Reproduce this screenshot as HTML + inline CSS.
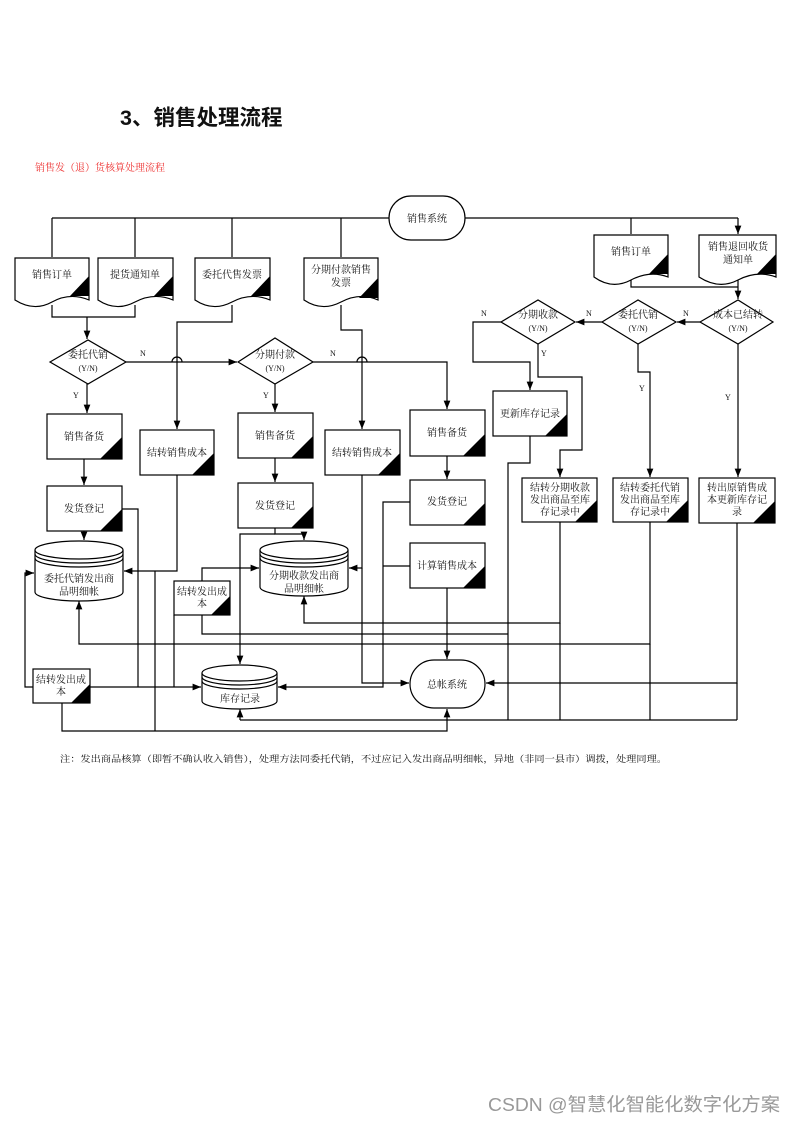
<!DOCTYPE html>
<html><head><meta charset="utf-8"><style>
body{margin:0;background:#fff;width:794px;height:1123px;overflow:hidden}
svg text{font-family:"Liberation Serif","Noto Serif CJK SC",serif;font-size:10px;fill:#111}
</style></head><body>
<svg width="794" height="1123" viewBox="0 0 794 1123" xmlns="http://www.w3.org/2000/svg">
<defs>
<marker id="a" viewBox="0 0 10 10" refX="10" refY="5" markerWidth="7" markerHeight="7" orient="auto"><path d="M0,1 L10,5 L0,9z" fill="#000"/></marker>
</defs>
<text x="120" y="125" style="font-family:'Liberation Sans','Noto Sans CJK SC',sans-serif;font-size:21.5px;font-weight:bold">3、销售处理流程</text>
<text x="35" y="171" style="fill:#e33;font-size:10px">销售发（退）货核算处理流程</text>

<g fill="none" stroke="#000" stroke-width="1.2">
<path d="M52,218H389M465,218H738"/>
<path d="M52,218V257M135,218V257M232,218V257M341,218V257M631,218V234M738,218V234" marker-end="url(#a)"/>
<path d="M52,305V317H135V305"/>
<path d="M87,317V339" marker-end="url(#a)"/>
<path d="M87,384V413" marker-end="url(#a)"/>
<path d="M126,362H237" marker-end="url(#a)"/>
<path d="M232,305V322H177V429" marker-end="url(#a)"/>
<path d="M275,384V412" marker-end="url(#a)"/>
<path d="M313,362H447V409" marker-end="url(#a)"/>
<path d="M341,305V330H362V429" marker-end="url(#a)"/>
<path d="M84,459V485" marker-end="url(#a)"/>
<path d="M275,458V482" marker-end="url(#a)"/>
<path d="M447,456V479" marker-end="url(#a)"/>
<path d="M84,531V540" marker-end="url(#a)"/>
<path d="M275,528V534H304V540" marker-end="url(#a)"/>
<path d="M275,534H240V664" marker-end="url(#a)"/>
<path d="M122,509H138V687"/>
<path d="M177,475V571H124" marker-end="url(#a)"/>
<path d="M155,571V731"/>
<path d="M90,687H201" marker-end="url(#a)"/>
<path d="M33,687H25V573H34" marker-end="url(#a)"/>
<path d="M62,703V731H447V709" marker-end="url(#a)"/>
<path d="M202,581V568H259" marker-end="url(#a)"/>
<path d="M174,615V687"/>
<path d="M202,615V634H508"/>
<path d="M362,475V568H349" marker-end="url(#a)"/>
<path d="M362,568V683H409" marker-end="url(#a)"/>
<path d="M410,502H383V687H278" marker-end="url(#a)"/>
<path d="M410,566H383"/>
<path d="M447,588V659" marker-end="url(#a)"/>
<path d="M240,720H737M240,720V709" marker-end="url(#a)"/>
<path d="M560,522V623H304V596" marker-end="url(#a)"/>
<path d="M650,522V644H79V601" marker-end="url(#a)"/>
<path d="M737,523V683H486" marker-end="url(#a)"/>
<path d="M560,623V720M650,644V720M737,683V720"/>
<path d="M631,277V287H738"/>
<path d="M738,277V299" marker-end="url(#a)"/>
<path d="M700,322H677" marker-end="url(#a)"/>
<path d="M602,322H576" marker-end="url(#a)"/>
<path d="M501,322H473V362H530V390" marker-end="url(#a)"/>
<path d="M538,344V377H582V450H560V477" marker-end="url(#a)"/>
<path d="M638,344V372H650V477" marker-end="url(#a)"/>
<path d="M738,344V477" marker-end="url(#a)"/>
<path d="M530,436V463H508V720"/>
</g>

<g fill="none" stroke="#000" stroke-width="1.2">
<path d="M172,362a5,5 0 0 1 10,0" /><path d="M357,362a5,5 0 0 1 10,0"/>
</g>

<g stroke="#000" stroke-width="1.2" fill="#fff">
<rect x="389" y="196" width="76" height="44" rx="22"/>
<rect x="410" y="660" width="75" height="48" rx="24"/>
<path d="M15,258H89V300Q70,292 52,302T15,300Z"/>
<path d="M98,258H173V300Q154,292 135,302T98,300Z"/>
<path d="M195,258H270V300Q251,292 232,302T195,300Z"/>
<path d="M304,258H378V300Q360,292 341,302T304,300Z"/>
<path d="M594,235H668V277Q650,270 631,280T594,277Z"/>
<path d="M699,235H776V277Q757,270 738,280T699,277Z"/>
<path d="M50,362L88,340L126,362L88,384Z"/>
<path d="M238,362L275,338L313,362L275,384Z"/>
<path d="M700,322L738,300L773,322L738,344Z"/>
<path d="M602,322L638,300L676,322L638,344Z"/>
<path d="M501,322L538,300L575,322L538,344Z"/>
<rect x="47" y="414" width="75" height="45"/>
<rect x="47" y="486" width="75" height="45"/>
<rect x="140" y="430" width="74" height="45"/>
<rect x="238" y="413" width="75" height="45"/>
<rect x="238" y="483" width="75" height="45"/>
<rect x="325" y="430" width="75" height="45"/>
<rect x="410" y="410" width="75" height="46"/>
<rect x="410" y="480" width="75" height="45"/>
<rect x="410" y="543" width="75" height="45"/>
<rect x="174" y="581" width="56" height="34"/>
<rect x="33" y="669" width="57" height="34"/>
<rect x="493" y="391" width="74" height="45"/>
<rect x="522" y="478" width="75" height="44"/>
<rect x="613" y="478" width="75" height="44"/>
<rect x="699" y="478" width="76" height="45"/>
<path d="M35,550V592A44,9 0 0 0 123,592V550"/><ellipse cx="79" cy="550" rx="44" ry="9"/>
<path d="M35,554A44,9 0 0 0 123,554M35,558A44,9 0 0 0 123,558" fill="none"/>
<path d="M260,550V587A44,9 0 0 0 348,587V550"/><ellipse cx="304" cy="550" rx="44" ry="9"/>
<path d="M260,554A44,9 0 0 0 348,554M260,558A44,9 0 0 0 348,558" fill="none"/>
<path d="M202,673V701A37.5,8 0 0 0 277,701V673"/><ellipse cx="239.5" cy="673" rx="37.5" ry="8"/>
<path d="M202,677A37.5,8 0 0 0 277,677M202,681A37.5,8 0 0 0 277,681" fill="none"/>
</g>

<g fill="#000">
<path d="M89,276V296L70,296Z"/><path d="M173,276V296L154,296Z"/><path d="M270,276V296L251,296Z"/><path d="M378,278V298L359,298Z"/>
<path d="M668,254V274L649,274Z"/><path d="M776,254V274L757,274Z"/>
<path d="M122,437V459L100,459Z"/><path d="M122,509V531L100,531Z"/><path d="M214,453V475L192,475Z"/>
<path d="M313,436V458L291,458Z"/><path d="M313,506V528L291,528Z"/><path d="M400,453V475L378,475Z"/>
<path d="M485,434V456L463,456Z"/><path d="M485,503V525L463,525Z"/><path d="M485,566V588L463,588Z"/>
<path d="M230,596V615L211,615Z"/><path d="M90,684V703L71,703Z"/>
<path d="M567,414V436L545,436Z"/><path d="M597,500V522L575,522Z"/><path d="M688,500V522L666,522Z"/><path d="M775,501V523L753,523Z"/>
</g>

<g text-anchor="middle">
<text x="427" y="222">销售系统</text>
<text x="447" y="688">总帐系统</text>
<text x="52" y="278">销售订单</text>
<text x="135" y="278">提货通知单</text>
<text x="232" y="278">委托代售发票</text>
<text x="341" y="273">分期付款销售</text><text x="341" y="286">发票</text>
<text x="631" y="255">销售订单</text>
<text x="738" y="250">销售退回收货</text><text x="738" y="263">通知单</text>
<text x="88" y="358">委托代销</text><text x="88" y="371" style="font-size:8px">(Y/N)</text>
<text x="275" y="358">分期付款</text><text x="275" y="371" style="font-size:8px">(Y/N)</text>
<text x="738" y="318">成本已结转</text><text x="738" y="331" style="font-size:8px">(Y/N)</text>
<text x="638" y="318">委托代销</text><text x="638" y="331" style="font-size:8px">(Y/N)</text>
<text x="538" y="318">分期收款</text><text x="538" y="331" style="font-size:8px">(Y/N)</text>
<text x="84" y="440">销售备货</text>
<text x="84" y="512">发货登记</text>
<text x="177" y="456">结转销售成本</text>
<text x="275" y="439">销售备货</text>
<text x="275" y="509">发货登记</text>
<text x="362" y="456">结转销售成本</text>
<text x="447" y="436">销售备货</text>
<text x="447" y="505">发货登记</text>
<text x="447" y="569">计算销售成本</text>
<text x="202" y="595">结转发出成</text><text x="202" y="607">本</text>
<text x="61" y="683">结转发出成</text><text x="61" y="695">本</text>
<text x="79" y="582">委托代销发出商</text><text x="79" y="595">品明细帐</text>
<text x="304" y="579">分期收款发出商</text><text x="304" y="592">品明细帐</text>
<text x="240" y="702">库存记录</text>
<text x="530" y="417">更新库存记录</text>
<text x="560" y="491">结转分期收款</text><text x="560" y="503">发出商品至库</text><text x="560" y="515">存记录中</text>
<text x="650" y="491">结转委托代销</text><text x="650" y="503">发出商品至库</text><text x="650" y="515">存记录中</text>
<text x="737" y="491">转出原销售成</text><text x="737" y="503">本更新库存记</text><text x="737" y="515">录</text>
</g>
<g>
<text x="140" y="356" style="font-size:8px">N</text><text x="330" y="356" style="font-size:8px">N</text>
<text x="73" y="398" style="font-size:8px">Y</text><text x="263" y="398" style="font-size:8px">Y</text>
<text x="481" y="316" style="font-size:8px">N</text><text x="586" y="316" style="font-size:8px">N</text><text x="683" y="316" style="font-size:8px">N</text>
<text x="541" y="356" style="font-size:8px">Y</text><text x="639" y="391" style="font-size:8px">Y</text><text x="725" y="400" style="font-size:8px">Y</text>
</g>
<text x="60" y="762" style="font-size:9px" textLength="607" lengthAdjust="spacingAndGlyphs">注：发出商品核算（即暂不确认收入销售），处理方法同委托代销，不过应记入发出商品明细帐，异地（非同一县市）调拨，处理同理。</text>
<text x="488" y="1111" textLength="292" lengthAdjust="spacingAndGlyphs" style="font-family:'Liberation Sans','Noto Sans CJK SC',sans-serif;font-size:18.5px;fill:#999">CSDN @智慧化智能化数字化方案</text>
</svg>
</body></html>
